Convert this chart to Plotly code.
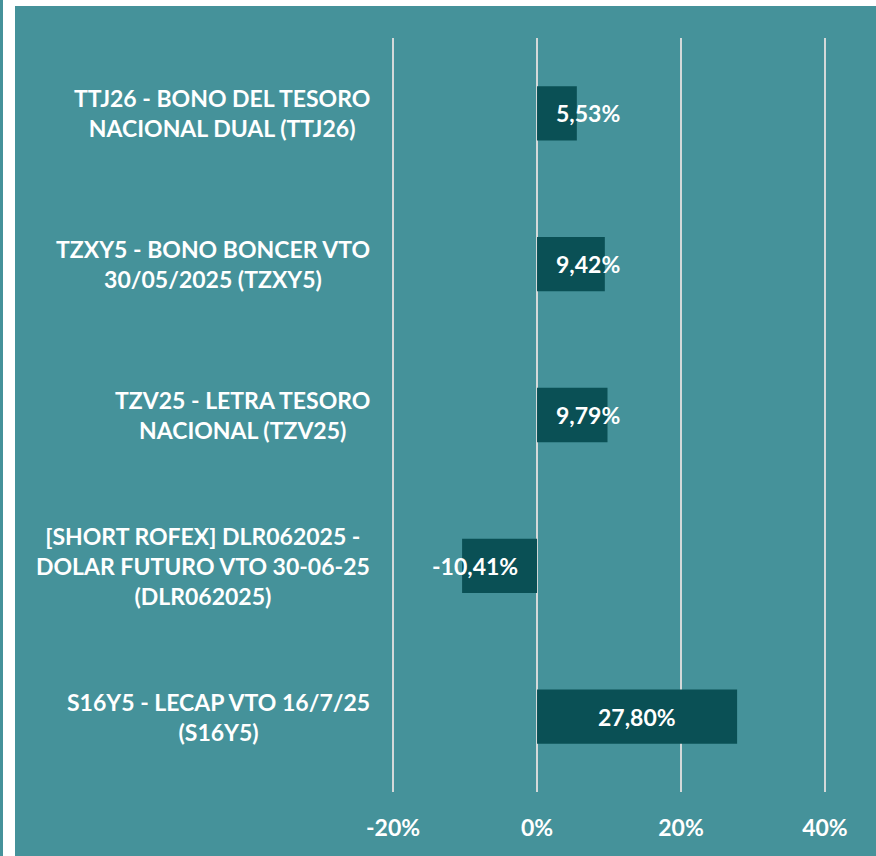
import plotly.graph_objects as go

# Instruments and their returns (%)
categories = [
    "TTJ26 - BONO DEL TESORO<br>NACIONAL DUAL (TTJ26)",
    "TZXY5 - BONO BONCER VTO<br>30/05/2025 (TZXY5)",
    "TZV25 - LETRA TESORO<br>NACIONAL (TZV25)",
    "[SHORT ROFEX] DLR062025 -<br>DOLAR FUTURO VTO 30-06-25<br>(DLR062025)",
    "S16Y5 - LECAP VTO 16/7/25<br>(S16Y5)",
]
returns = [5.53, 9.42, 9.79, -10.41, 27.80]
x_ticks = [-20, 0, 20, 40]

W, H = 876, 856
L, R, T, B = 392, 50, 38, 64
BG = "#45929A"
BAR = "#0A5055"
GRID = "#D4D9D9"
FONT = "Lato"
FS = 23

def px_x(px):
    return (px - L) / (W - L - R)

def px_y(py):
    return (H - B - py) / (H - T - B)

fig = go.Figure()
fig.add_trace(go.Bar(
    x=returns,
    y=categories,
    orientation="h",
    marker=dict(color=BAR, line=dict(width=0)),
    width=0.36,
    hoverinfo="skip",
))

annotations = []
# value labels: centred on long bars, anchored near the base on short ones
for cat, v in zip(categories, returns):
    txt = f"{v:.2f}".replace(".", ",") + "%"
    if abs(v) > 15:
        xpos, anchor = v / 2, "center"
    elif v >= 0:
        xpos, anchor = 2.3, "left"
    else:
        xpos, anchor = -2.3, "right"
    annotations.append(dict(
        x=xpos, y=cat, xref="x", yref="y", text=txt, showarrow=False,
        xanchor=anchor, yanchor="middle",
        font=dict(family=FONT, size=FS, color="white", weight="bold"),
    ))

# category labels, centred line by line
for cat in categories:
    annotations.append(dict(
        x=px_x(372), y=cat, xref="paper", yref="y", text=cat, showarrow=False,
        xanchor="right", yanchor="middle", align="center",
        font=dict(family=FONT, size=FS, color="white", weight="bold"),
    ))

shapes = [
    # white frame strips
    dict(type="rect", xref="paper", yref="paper",
         x0=px_x(3), x1=px_x(15), y0=px_y(H + 5), y1=px_y(-5),
         fillcolor="white", line=dict(width=0), layer="below"),
    dict(type="rect", xref="paper", yref="paper",
         x0=px_x(3), x1=px_x(W + 5), y0=px_y(6), y1=px_y(-5),
         fillcolor="white", line=dict(width=0), layer="below"),
]

fig.update_layout(
    width=W, height=H,
    margin=dict(l=L, r=R, t=T, b=B),
    paper_bgcolor=BG,
    plot_bgcolor=BG,
    showlegend=False,
    bargap=0.64,
    annotations=annotations,
    shapes=shapes,
    xaxis=dict(
        range=[-20.15, 40.15],
        tickvals=x_ticks,
        ticktext=[f"{t}%" for t in x_ticks],
        showgrid=True, gridcolor=GRID, gridwidth=1.5,
        zeroline=True, zerolinecolor=GRID, zerolinewidth=1.5,
        showline=False, ticks="",
        ticklabelstandoff=20,
        tickfont=dict(family=FONT, size=FS, color="white", weight="bold"),
        fixedrange=True,
    ),
    yaxis=dict(
        autorange="reversed",
        showticklabels=False,
        showgrid=False, zeroline=False, showline=False, ticks="",
        fixedrange=True,
    ),
)

fig.write_html("out.html")
